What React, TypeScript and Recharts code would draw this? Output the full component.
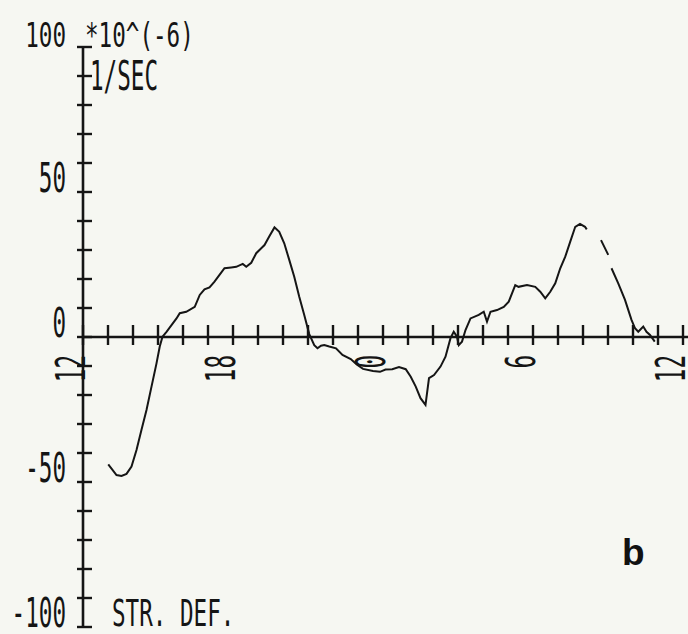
import React from 'react';
import { LineChart, Line, XAxis, YAxis, ReferenceLine } from 'recharts';

// hours after 12:00 (0 = 12h, 24 = 12h next day)
const HOURS: number[] = [
  1.01, 1.34, 1.54, 1.74, 1.94, 2.14, 2.34, 2.54, 2.74, 2.94, 3.07, 3.18, 3.34, 3.54, 3.74, 3.87,
  4.13, 4.47, 4.67, 4.86, 5.06, 5.26, 5.46, 5.66, 5.93, 6.13, 6.39, 6.53, 6.73, 6.93, 7.13, 7.26,
  7.46, 7.66, 7.85, 8.05, 8.25, 8.45, 8.65, 8.85, 9.05, 9.25, 9.38, 9.52, 9.65, 9.85, 10.12, 10.38,
  10.71, 10.95, 11.2, 11.6, 11.88, 12.1, 12.37, 12.64, 12.91, 13.11, 13.31, 13.5, 13.7, 13.84, 14.04,
  14.3, 14.5, 14.7, 14.83, 14.96, 15.03, 15.16, 15.3, 15.5, 15.83, 16.03, 16.16, 16.3, 16.56, 16.83,
  17.03, 17.29, 17.42, 17.76, 18.09, 18.29, 18.49, 18.69, 18.89, 19.09, 19.29, 19.49, 19.69, 19.88,
  20.08, 20.15, 20.4, 20.72, 21.01, 21.07, 21.14, 21.41, 21.68, 21.94, 22.08, 22.21, 22.41, 22.54,
  22.68, 22.87,
];

// strain deformation rate, *10^(-6) 1/SEC (null = pen gap)
const STRAIN: (number | null)[] = [
  -43.9, -47.6, -47.9, -47.2, -44.7, -39, -32, -25.2, -17.1, -9.1, -3.3, 0.1, 1.8, 4.1, 6.4, 8.2,
  8.7, 10.4, 14.5, 16.4, 17.1, 19.1, 21.4, 23.7, 24, 24.2, 25.2, 24.2, 25.6, 28.9, 30.6, 31.7,
  34.8, 37.8, 36.3, 32.3, 26.6, 20.8, 13.9, 7.6, 1.0, -2.8, -3.9, -3.0, -2.8, -3.3, -3.9, -6.2,
  -7.6, -9.5, -11.0, -11.7, -12.0, -11.2, -11.1, -10.4, -11.1, -13.7, -17.1, -21.1, -23.4, -14.2, -13.1,
  -10.2, -6.8, -0.4, 1.8, 0.1, -2.8, -1.6, 2.4, 6.4, 7.6, 8.7, 5.3, 8.7, 9.3, 10.4,
  12.2, 17.9, 17.3, 17.9, 17.3, 15.6, 13.3, 15.6, 18.5, 23.7, 27.7, 32.9, 38.0, 39.0,
  38.0, 37.1, null, 33.4, 28.3, null, 23.7, 18.5, 12.8, 5.9, 3.0, 1.8, 3.6, 1.8,
  0.7, -1.6,
];

const X_TICKS: number[] = Array.from({ length: 25 }, (_, i) => i);
const X_LABELS: Record<number, string> = { 0: '12', 6: '18', 12: '0', 18: '6', 24: '12' };
const Y_TICKS: number[] = Array.from({ length: 21 }, (_, i) => -100 + i * 10);
const Y_LABELS: Record<number, string> = { 100: '100', 50: '50', 0: '0', [-50]: '-50', [-100]: '-100' };

const W = 688;
const H = 634;
const PLOT_TOP = 47;
const PLOT_BOTTOM = 627;
const PLOT_LEFT = 83;
const Y_AXIS_W = 20;
const X_AXIS_H = 7;
const ZERO_Y = (PLOT_TOP + PLOT_BOTTOM) / 2;
const FONT = '"DejaVu Sans Mono", monospace';
const INK = '#151515';
const CHAR_W = 13.6;

const data = HOURS.map((h, i) => ({ h, v: STRAIN[i] }));

function PlotText({ x, y, text, size = 40, anchor = 'start', rotate = 0 }: any) {
  return (
    <text
      transform={`translate(${x},${y}) rotate(${rotate})`}
      x={0}
      y={0}
      fontFamily={FONT}
      fontSize={size}
      fill={INK}
      textAnchor={anchor}
      textLength={text.length * CHAR_W}
      lengthAdjust="spacingAndGlyphs"
    >
      {text}
    </text>
  );
}

function XTick(props: any) {
  const { x, payload } = props;
  const v = payload.value as number;
  const label = X_LABELS[v];
  return (
    <g>
      <line x1={x} x2={x} y1={ZERO_Y - 12} y2={ZERO_Y + 8} stroke={INK} strokeWidth={2.4} />
      {label !== undefined && (
        <PlotText x={x + 2} y={ZERO_Y + 18} text={label} anchor="end" rotate={-90} />
      )}
    </g>
  );
}

function YTick(props: any) {
  const { y, payload } = props;
  const v = payload.value as number;
  const label = Y_LABELS[v];
  const small = v === 100;
  return (
    <g>
      <line x1={PLOT_LEFT - 6} x2={PLOT_LEFT + 9} y1={y} y2={y} stroke={INK} strokeWidth={2.4} />
      {label !== undefined && (
        <PlotText x={66} y={y} text={label} anchor="end" size={small ? 33 : 40} />
      )}
    </g>
  );
}

export default function App() {
  return (
    <div style={{ position: 'absolute', left: 0, top: 0, width: W, height: H, background: '#f6f7f2' }}>
      <LineChart
        width={W}
        height={H}
        data={data}
        margin={{ top: PLOT_TOP, bottom: H - PLOT_BOTTOM - X_AXIS_H, left: PLOT_LEFT - Y_AXIS_W, right: 0 }}
        style={{ overflow: 'visible' }}
      >
        <XAxis
          dataKey="h"
          type="number"
          domain={[0, 24.2]}
          ticks={X_TICKS}
          interval={0}
          height={X_AXIS_H}
          axisLine={false}
          tickLine={false}
          tick={<XTick />}
        />
        <YAxis
          type="number"
          domain={[-100, 100]}
          ticks={Y_TICKS}
          interval={0}
          width={Y_AXIS_W}
          axisLine={false}
          tickLine={false}
          tick={<YTick />}
        />
        <ReferenceLine y={0} stroke={INK} strokeWidth={2.6} />
        <ReferenceLine x={0} stroke={INK} strokeWidth={2.6} />
        <Line
          type="linear"
          dataKey="v"
          stroke={INK}
          strokeWidth={2}
          dot={false}
          connectNulls={false}
          isAnimationActive={false}
        />
      </LineChart>
      <svg width={W} height={H} style={{ position: 'absolute', left: 0, top: 0, pointerEvents: 'none' }}>
        <PlotText x={85} y={47} text={'*10^(-6)'} size={33} />
        <PlotText x={90} y={90} text={'1/SEC'} />
        <PlotText x={112} y={626} text={'STR. DEF.'} size={38} />
        <text x={622} y={565} fontFamily='"Liberation Sans", Arial, sans-serif' fontWeight="bold" fontSize={37} fill="#111">
          b
        </text>
      </svg>
    </div>
  );
}
